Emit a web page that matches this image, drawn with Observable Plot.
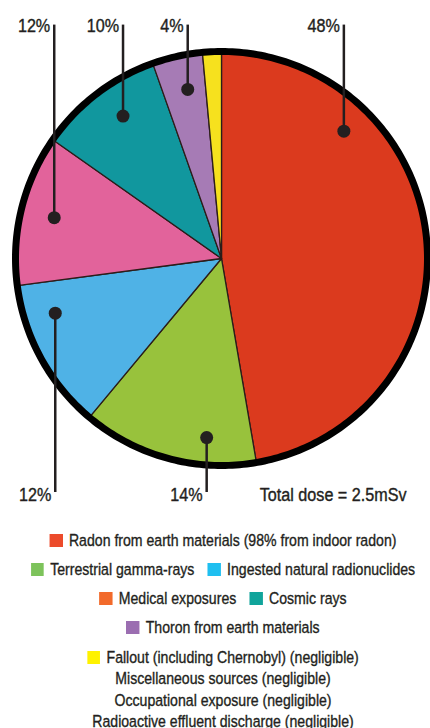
<!DOCTYPE html>
<html><head><meta charset="utf-8">
<script src="https://cdn.jsdelivr.net/npm/d3@7"></script>
<script src="https://cdn.jsdelivr.net/npm/@observablehq/plot@0.6"></script>
<style>
body{margin:0;background:#fff;font-family:"Liberation Sans",Arial,sans-serif;color:#231f20;overflow:hidden;}
#chart{width:430px;}
#chart svg{display:block;}
.legend{width:512px;box-sizing:border-box;padding-left:19px;margin-top:6px;font-size:16.8px;transform:scaleX(0.84);transform-origin:0 0;-webkit-text-stroke:0.35px #231f20;}
.row{display:flex;justify-content:center;align-items:center;height:29px;}
.item{display:flex;align-items:center;margin:0 8px;white-space:nowrap;}
.sw{width:15.5px;height:13px;margin-right:7.5px;flex:none;}
.neg{margin-top:5px;}
.neg .row{height:21.5px;}
</style></head><body><div id="chart"></div><script>
// ---- data ----
const sources = [
  "Radon from earth materials (98% from indoor radon)",
  "Terrestrial gamma-rays",
  "Ingested natural radionuclides",
  "Medical exposures",
  "Cosmic rays",
  "Thoron from earth materials",
  "Fallout (including Chernobyl) (negligible)"
];
const shares = [48, 14, 12, 12, 10, 4, 1.5];
const labelled = [true, true, true, true, true, true, false];
const negligibleSources = [
  "Miscellaneous sources (negligible)",
  "Occupational exposure (negligible)",
  "Radioactive effluent discharge (negligible)"
];
const totalDose = "Total dose = 2.5mSv";
const legendRows = [[0], [1, 2], [3, 4], [5], [6]];

// ---- styles / layout ----
const sliceColors = ["#db3a1e", "#98c23c", "#4fb2e6", "#e2639b", "#11979e", "#a67bb5", "#f6e11e"];
const legendColors = ["#ec4b2b", "#7dc35b", "#1fbff0", "#f26a2b", "#10a49b", "#9b6eb1", "#fff200"];
// callout dot position in unit-pie coordinates, and leader direction (+1 up, -1 down)
const calloutDot = [[0.594, 0.615], [-0.072, -0.865], [-0.807, -0.264], [-0.812, 0.197], [-0.478, 0.688], [-0.164, 0.817], null];
const calloutDir = [1, -1, -1, 1, 1, 1, 0];
const cx = 221, cy = 258, Rx = 206, Ry = 207;
const W = 430, H = 520;
const squeeze = 0.85;

// ---- geometry from data ----
const arcs = d3.pie().sort(null).value(d => d)(shares);
const slicePts = [];
arcs.forEach((a, i) => {
  slicePts.push({source: sources[i], x: 0, y: 0});
  const n = Math.max(2, Math.ceil((a.endAngle - a.startAngle) / 0.01));
  for (let k = 0; k <= n; k++) {
    const t = a.startAngle + (a.endAngle - a.startAngle) * k / n;
    slicePts.push({source: sources[i], x: Math.sin(t), y: Math.cos(t)});
  }
  slicePts.push({source: sources[i], x: 0, y: 0});
});
const rim = d3.range(0, 361).map(d => ({x: Math.sin(d * Math.PI / 180), y: Math.cos(d * Math.PI / 180)}));
const callouts = sources.map((s, i) => labelled[i] ? {
  source: s, label: `${shares[i]}%`, x: calloutDot[i][0], y: calloutDot[i][1],
  dir: calloutDir[i], yEnd: calloutDir[i] > 0 ? 1.13 : -1.128
} : null).filter(Boolean);
const up = callouts.filter(d => d.dir > 0), down = callouts.filter(d => d.dir < 0);

const font = `"Liberation Sans",Arial,sans-serif`;
const textStyle = {fontSize: 19, fill: "#231f20", stroke: "#231f20", strokeWidth: 0.4};
const plot = Plot.plot({
  width: W, height: H, margin: 0,
  style: {fontFamily: font, background: "#fff", color: "#231f20"},
  x: {domain: [-1, 1], range: [cx - Rx, cx + Rx], axis: null},
  y: {domain: [-1, 1], range: [cy + Ry, cy - Ry], axis: null},
  color: {domain: sources, range: sliceColors},
  marks: [
    Plot.line(slicePts, {x: "x", y: "y", z: "source", fill: "source", stroke: "#2b1d1a", strokeWidth: 1.3, curve: "linear", strokeLinejoin: "round"}),
    Plot.line(rim, {x: "x", y: "y", stroke: "#000", strokeWidth: 7, curve: "linear"}),
    Plot.link(callouts, {x1: "x", y1: "y", x2: "x", y2: "yEnd", stroke: "#231f20", strokeWidth: 2.5}),
    Plot.dot(callouts, {x: "x", y: "y", r: 6.5, fill: "#231f20", stroke: "none"}),
    Plot.text(up, {x: "x", y: "yEnd", text: "label", textAnchor: "end", lineAnchor: "top", dx: -4, dy: -6.5, ...textStyle}),
    Plot.text(down, {x: "x", y: "yEnd", text: "label", textAnchor: "end", lineAnchor: "top", dx: -4, dy: -4, ...textStyle}),
    Plot.text([totalDose], {frameAnchor: "bottom-right", text: d => d, textAnchor: "end", lineAnchor: "top", dx: -24, dy: -33.3, ...textStyle})
  ]
});
// condensed look: squeeze each label horizontally around its anchor
plot.querySelectorAll("text").forEach(t => {
  t.setAttribute("transform", (t.getAttribute("transform") || "") + ` scale(${squeeze},1)`);
});
const chart = document.getElementById("chart");
chart.appendChild(plot);

// ---- legend ----
const legend = document.createElement("div");
legend.className = "legend";
legendRows.slice(0, 4).forEach(r => {
  const row = document.createElement("div");
  row.className = "row";
  r.forEach(i => {
    const it = document.createElement("span");
    it.className = "item";
    it.innerHTML = `<span class="sw" style="background:${legendColors[i]}"></span><span></span>`;
    it.lastChild.textContent = sources[i];
    row.appendChild(it);
  });
  legend.appendChild(row);
});
const neg = document.createElement("div");
neg.className = "neg";
legendRows[4].forEach(i => {
  const row = document.createElement("div");
  row.className = "row";
  row.innerHTML = `<span class="item"><span class="sw" style="background:${legendColors[i]}"></span><span></span></span>`;
  row.querySelector(".item").lastChild.textContent = sources[i];
  neg.appendChild(row);
});
negligibleSources.forEach(s => {
  const row = document.createElement("div");
  row.className = "row";
  row.textContent = s;
  neg.appendChild(row);
});
legend.appendChild(neg);
chart.appendChild(legend);
</script></body></html>
